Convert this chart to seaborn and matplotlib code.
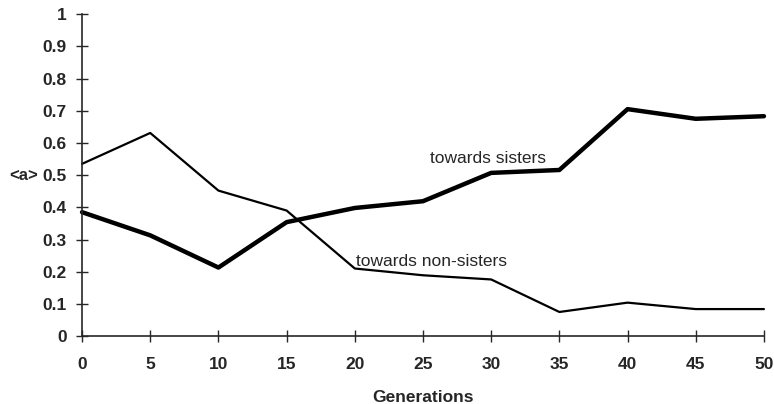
import pandas as pd
import matplotlib.pyplot as plt
import seaborn as sns

#%% data
generations = [0, 5, 10, 15, 20, 25, 30, 35, 40, 45, 50]
sisters = [0.385, 0.313, 0.213, 0.354, 0.398, 0.419, 0.507, 0.516, 0.705, 0.675, 0.683]
non_sisters = [0.535, 0.631, 0.452, 0.390, 0.210, 0.189, 0.176, 0.075, 0.104, 0.084, 0.084]
y_ticks = [0, 0.1, 0.2, 0.3, 0.4, 0.5, 0.6, 0.7, 0.8, 0.9, 1]
y_ticklabels = ['0', '0.1', '0.2', '0.3', '0.4', '0.5', '0.6', '0.7', '0.8', '0.9', '1']

df = pd.DataFrame({'gen': generations + generations,
                   'a': sisters + non_sisters,
                   'group': ['towards sisters'] * len(sisters) + ['towards non-sisters'] * len(non_sisters)})

#%% plot
sns.set_style("ticks")
plt.rcParams['font.family'] = ['Liberation Sans', 'DejaVu Sans']

fig = plt.figure(figsize=(7.74, 4.04), dpi=100)
ax = fig.add_axes([0.106, 0.168, 0.881, 0.797])

sns.lineplot(data=df, x='gen', y='a', hue='group', size='group',
             sizes={'towards sisters': 3.2, 'towards non-sisters': 1.6},
             palette={'towards sisters': 'black', 'towards non-sisters': 'black'},
             legend=False, ax=ax)

ax.set_xlim(0, 50)
ax.set_ylim(0, 1)
ax.set_xticks(generations)
ax.set_yticks(y_ticks)
ax.set_yticklabels(y_ticklabels)
ax.tick_params(direction='inout', length=8, width=1, labelsize=12.5)
ax.tick_params(axis='x', pad=11)
ax.tick_params(axis='y', pad=7)
for lab in ax.get_xticklabels() + ax.get_yticklabels():
    lab.set_fontweight('bold')
sns.despine(ax=ax)
for sp in ['left', 'bottom']:
    ax.spines[sp].set_linewidth(1.2)
for ln in ax.lines:
    ln.set_clip_on(False)

ax.set_xlabel('Generations', fontsize=12.5, fontweight='bold', labelpad=13)
ax.set_ylabel('')
fig.text(0.03, 0.5 * 0.797 + 0.168, '<a>', fontsize=12, fontweight='bold', va='center', ha='center')

ax.text(25.5, 0.538, 'towards sisters', fontsize=12.5)
ax.text(20.1, 0.218, 'towards non-sisters', fontsize=12.5)

fig.savefig('out.png', dpi=100)
